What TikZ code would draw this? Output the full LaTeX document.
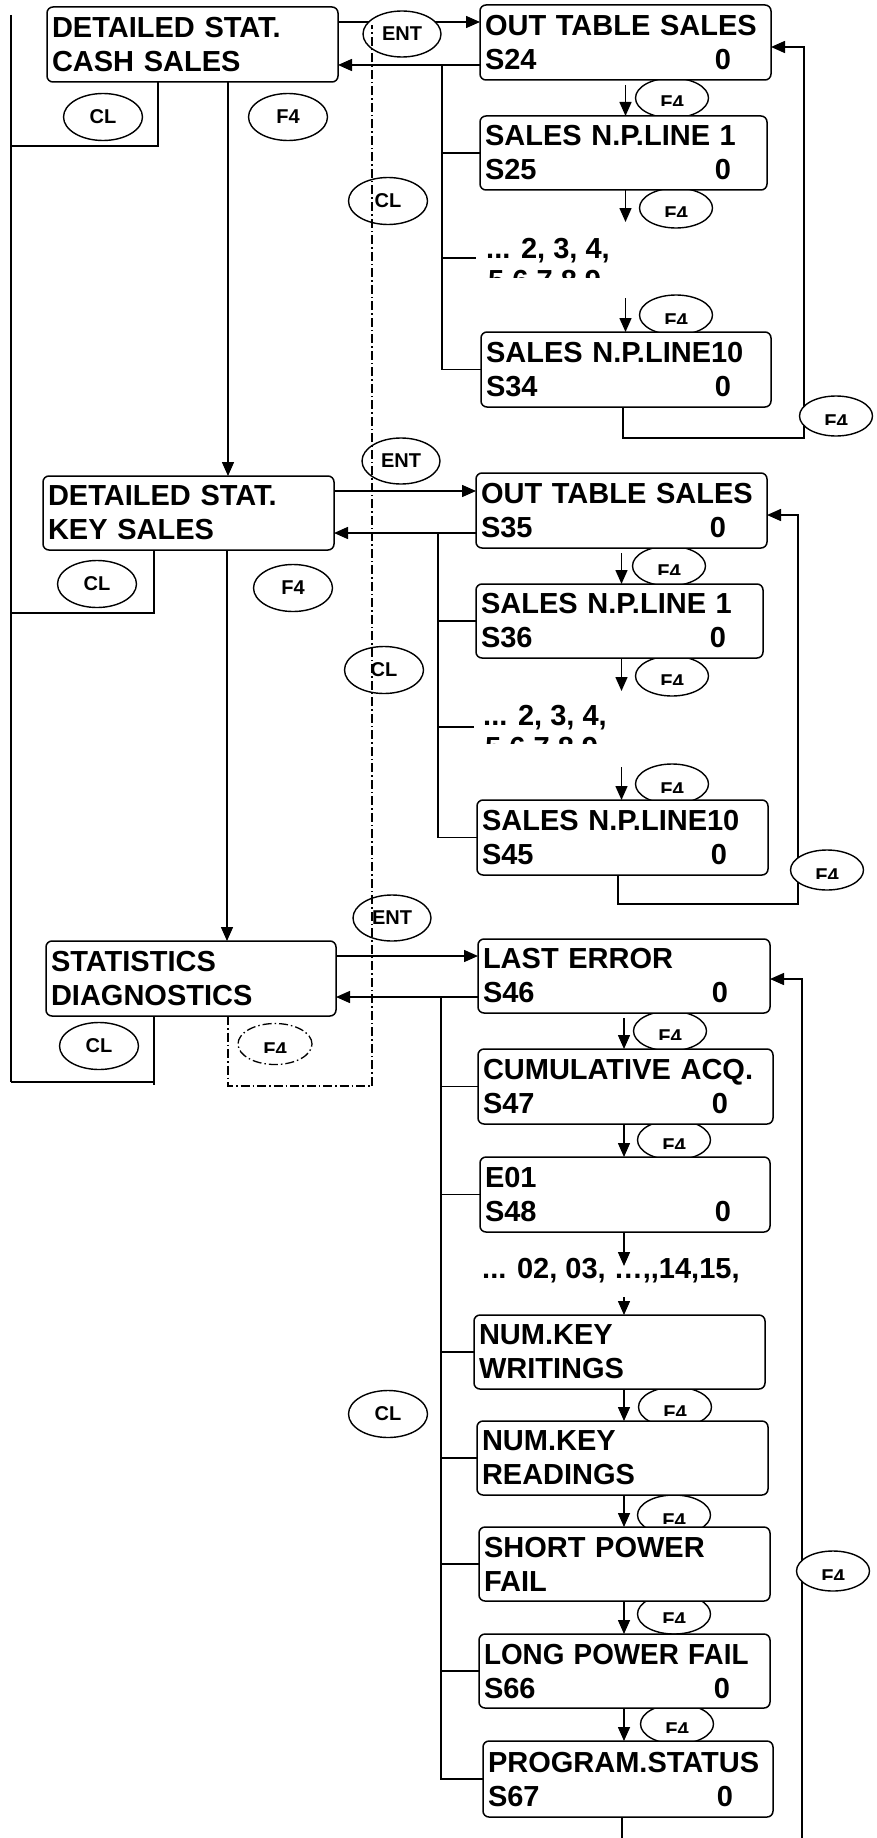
\documentclass[tikz,border=0pt]{standalone}
\usepackage{fontspec}
\setmainfont{Liberation Sans}
\usepackage{graphicx}
\usetikzlibrary{shapes.geometric,arrows.meta,calc}
\pgfdeclarelayer{bg}\pgfdeclarelayer{fg}
\pgfsetlayers{bg,main,fg}
\tikzset{
 scr/.style={draw, line width=1.5pt, rounded corners=6pt, fill=white, anchor=north west, outer sep=0pt, inner xsep=5pt, inner ysep=0pt, align=left, font=\bfseries\fontsize{29}{34}\selectfont},
 key/.style={draw, ellipse, line width=1.4pt, fill=white, inner sep=0pt, outer sep=0pt, font=\bfseries\fontsize{20}{20}\selectfont},
 keyb/.style={key, minimum width=79pt, minimum height=47pt},
 keys/.style={key, minimum width=73pt, minimum height=40pt},
 conn/.style={line width=1.5pt},
 arr/.style={conn, -{Triangle[length=14pt,width=12pt]}},
 dashdot/.style={line width=1.3pt, dash pattern=on 9pt off 3pt on 1.5pt off 3pt},
 lbl/.style={font=\bfseries\fontsize{29}{34}\selectfont, inner sep=0pt, anchor=base west},
 ftxt/.style={font=\bfseries\fontsize{20}{20}\selectfont, inner sep=0pt, anchor=base},
}
\newcommand\fkey[3][]{%
 \node[keys,#1] (#2) at (#3) {};
 \begin{scope}
  \clip ([xshift=-30,yshift=6]#2.center) rectangle ([xshift=30,yshift=-8]#2.center);
  \node[ftxt] (#2t) at ([yshift=-12]#2.center) {F4};
 \end{scope}}
\newcommand\zrow[2]{#1\hfill 0\rule{#2pt}{0pt}}
\begin{document}
\begin{tikzpicture}[x=1pt,y=-1pt]
\useasboundingbox (0,0) rectangle (877,1838);
\begin{pgfonlayer}{bg}
\fill[white] (0,0) rectangle (877,1838);
\end{pgfonlayer}

% ---------- key ellipses ----------
\node[key, minimum width=78pt, minimum height=46pt] (ENT1) at (402,34) {ENT};
\node[key, minimum width=78pt, minimum height=46pt] (ENT2) at (401,461) {ENT};
\node[key, minimum width=78pt, minimum height=46pt] (ENT3) at (392,918) {ENT};
\node[keyb] (CLa) at (103,117) {CL};
\node[keyb] (CLb) at (97,584) {CL};
\node[keyb] (CLc) at (99,1046) {CL};
\node[keyb] (F4a) at (288,117) {F4};
\node[keyb] (F4b) at (293,588) {F4};
\fkey[dashdot, minimum width=74pt, minimum height=41pt]{F4c}{275,1044}
\node[keyb] (CLm1) at (388,201) {CL};
\node[keyb] (CLm2) at (384,670) {CL};
\node[keyb] (CLm3) at (388,1414) {CL};
% small F4 keys
\fkey{s1}{672,98}
\fkey{s2}{676,208}
\fkey{s3}{676,315}
\fkey{s4}{669,566}
\fkey{s5}{672,676}
\fkey{s6}{672,784}
\fkey{s7}{670,1031}
\fkey{s8}{674,1140}
\fkey{s9}{675,1407}
\fkey{s10}{674,1515}
\fkey{s11}{674,1614}
\fkey{s12}{677,1724}
% right loop F4 keys
\fkey{R1}{836,416}
\fkey{R2}{827,870}
\fkey{R3}{833,1571}

% ---------- screens ----------
\node[scr, minimum width=291pt, minimum height=75pt, text width=281pt] (B1) at (47,7) {DETAILED STAT.\\CASH SALES};
\node[scr, minimum width=291pt, minimum height=74pt, text width=281pt] (B2) at (43,476) {DETAILED STAT.\\KEY SALES};
\node[scr, minimum width=290pt, minimum height=75pt, text width=280pt] (B3) at (46,941) {STATISTICS\\DIAGNOSTICS};

\node[scr, minimum width=291pt, minimum height=75pt, text width=281pt] (O1) at (480,5) {OUT TABLE SALES\\\zrow{S24}{35}};
\node[scr, minimum width=287pt, minimum height=74pt, text width=277pt] (S1a) at (480,116) {SALES N.P.LINE 1\\\zrow{S25}{31}};
\node[lbl] (T1) at (486,258) {... 2, 3, 4,};
\begin{scope}
 \clip (480,262) rectangle (640,277);
 \node[lbl] (T1b) at (488,290) {5,6,7,8,9,};
\end{scope}
\node[scr, minimum width=290pt, minimum height=75pt, text width=280pt] (S10a) at (481,332) {SALES N.P.LINE10\\\zrow{S34}{35}};

\node[scr, minimum width=291pt, minimum height=75pt, text width=281pt] (O2) at (476,473) {OUT TABLE SALES\\\zrow{S35}{36}};
\node[scr, minimum width=287pt, minimum height=74pt, text width=277pt] (S1b) at (476,584) {SALES N.P.LINE 1\\\zrow{S36}{32}};
\node[lbl] (T2) at (483,725) {... 2, 3, 4,};
\begin{scope}
 \clip (476,729) rectangle (640,743);
 \node[lbl] (T2b) at (485,757) {5,6,7,8,9,};
\end{scope}
\node[scr, minimum width=291pt, minimum height=75pt, text width=281pt] (S10b) at (477,800) {SALES N.P.LINE10\\\zrow{S45}{36}};

\node[scr, minimum width=292pt, minimum height=74pt, text width=282pt] (LE) at (478,939) {LAST ERROR\\\zrow{S46}{37}};
\node[scr, minimum width=295pt, minimum height=75pt, text width=285pt] (CA) at (478,1049) {CUMULATIVE ACQ.\\\zrow{S47}{40}};
\node[scr, minimum width=290pt, minimum height=75pt, text width=280pt] (E01) at (480,1157) {E01\\\zrow{S48}{34}};
\node[lbl] (T3) at (482,1278) {... 02, 03, …,{},14,15,};
\node[scr, minimum width=291pt, minimum height=74pt, text width=281pt] (NKW) at (474,1315) {NUM.KEY\\WRITINGS};
\node[scr, minimum width=291pt, minimum height=74pt, text width=281pt] (NKR) at (477,1421) {NUM.KEY\\READINGS};
\node[scr, minimum width=291pt, minimum height=74pt, text width=281pt] (SPF) at (479,1527) {SHORT POWER\\FAIL};
\node[scr, minimum width=291pt, minimum height=74pt, text width=281pt] (LPF) at (479,1634) {\scalebox{0.96}[1]{LONG POWER FAIL}\\\zrow{S66}{35}};
\node[scr, minimum width=290pt, minimum height=76pt, text width=280pt] (PS) at (483,1741) {PROGRAM.STATUS\\\zrow{S67}{35}};

% ---------- connectors ----------
\begin{pgfonlayer}{bg}
% left column
\coordinate (Ltop) at (11,15);
\coordinate (Lbot) at (11,1082);
\draw[conn] (Ltop) -- (Lbot);
\draw[conn] ([xshift=111]B1.south west) |- (11,146);
\draw[conn] ([xshift=111]B2.south west) |- (11,613);
\draw[conn] ([xshift=108]B3.south west) -- ++(0,69);
\draw[conn] ([xshift=108]B3.south west) |- (Lbot);
\coordinate (d1) at ([xshift=181]B1.south west);
\draw[arr] (d1) -- (d1 |- B2.north);
\coordinate (d2) at ([xshift=184]B2.south west);
\draw[arr] (d2) -- (d2 |- B3.north);

% section 1
\coordinate (o1a) at ([yshift=-15]B1.north east);
\draw[arr] (o1a) -- (o1a -| O1.west);
\coordinate (o1b) at ([yshift=15]O1.south west);
\draw[arr] (o1b) -- (o1b -| B1.east);
\coordinate (k1) at ([xshift=-38]o1b);
\draw[conn] (k1) |- (S10a.west);
\draw[conn] (k1 |- S1a.west) -- (S1a.west);
\coordinate (t1l) at (476,258);
\draw[conn] (k1 |- t1l) -- (t1l);
\draw[arr] ([yshift=-5]O1.south) -- (O1.south |- S1a.north);
\coordinate (a1) at (O1.south |- S1a.south);
\draw[arr] (a1) -- ++(0,32);
\coordinate (a2) at (625.5,298);
\draw[arr] (a2) -- (a2 |- S10a.north);
\coordinate (r1) at ([xshift=142]S10a.south west);
\coordinate (r1b) at (804,438);
\draw[arr] (r1) |- (r1b) |- ([yshift=-42]O1.north east);

% section 2
\coordinate (o2a) at ([yshift=-15]B2.north east);
\draw[arr] (o2a) -- (o2a -| O2.west);
\coordinate (o2b) at ([yshift=15]O2.south west);
\draw[arr] (o2b) -- (o2b -| B2.east);
\coordinate (k2) at ([xshift=-38]o2b);
\draw[conn] (k2) |- (S10b.west);
\draw[conn] (k2 |- S1b.west) -- (S1b.west);
\coordinate (t2l) at (474,727);
\draw[conn] (k2 |- t2l) -- (t2l);
\draw[arr] ([yshift=-5]O2.south) -- (O2.south |- S1b.north);
\coordinate (a3) at (O2.south |- S1b.south);
\draw[arr] (a3) -- ++(0,33);
\coordinate (a4) at (621.5,767);
\draw[arr] (a4) -- (a4 |- S10b.north);
\coordinate (r2) at ([xshift=141]S10b.south west);
\coordinate (r2b) at (798,904);
\draw[arr] (r2) |- (r2b) |- ([yshift=-42]O2.north east);

% section 3
\coordinate (o3a) at ([yshift=-15]B3.north east);
\draw[arr] (o3a) -- (o3a -| LE.west);
\coordinate (o3b) at ([yshift=16]LE.south west);
\draw[arr] (o3b) -- (o3b -| B3.east);
\coordinate (k3) at ([xshift=-37]o3b);
\draw[conn] (k3) |- (PS.west);
\draw[conn] (k3 |- CA.west) -- (CA.west);
\draw[conn] (k3 |- E01.west) -- (E01.west);
\draw[conn] (k3 |- NKW.west) -- (NKW.west);
\draw[conn] (k3 |- NKR.west) -- (NKR.west);
\draw[conn] (k3 |- SPF.west) -- (SPF.west);
\draw[conn] (k3 |- LPF.west) -- (LPF.west);
\draw[arr] ([yshift=-5]LE.south) -- (LE.south |- CA.north);
\draw[arr] (LE.south |- CA.south) -- (LE.south |- E01.north);
\draw[arr] (LE.south |- E01.south) -- ++(0,34);
\coordinate (a5) at (624,1297);
\draw[arr] (a5) -- (a5 |- NKW.north);
\draw[arr] (LE.south |- NKW.south) -- (LE.south |- NKR.north);
\draw[arr] (LE.south |- NKR.south) -- (LE.south |- SPF.north);
\draw[arr] (LE.south |- SPF.south) -- (LE.south |- LPF.north);
\draw[arr] (LE.south |- LPF.south) -- (LE.south |- PS.north);
\coordinate (r3) at ([xshift=139]PS.south west);
\draw[conn] (r3) -- ++(0,21);
\coordinate (r3b) at (802,1838);
\draw[arr] (r3b) |- ([yshift=-40]LE.north east);
\end{pgfonlayer}

% ---------- dash-dot path ----------
\begin{pgfonlayer}{fg}
\coordinate (dd) at ([xshift=182]B3.south west);
\coordinate (ddc) at (372,1086);
\coordinate (ddt) at (372,25);
\draw[dashdot] (dd) |- (ddc) -- (ddt);
\end{pgfonlayer}
\end{tikzpicture}
\end{document}
